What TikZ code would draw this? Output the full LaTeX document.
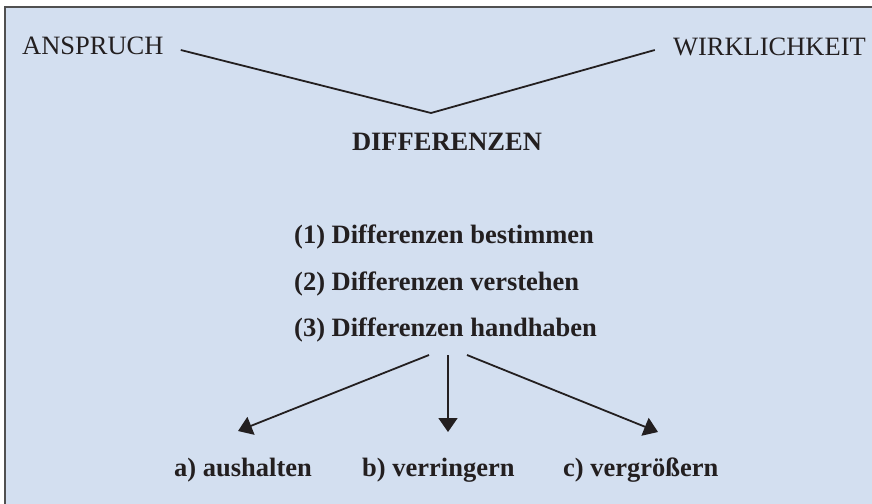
\documentclass[tikz,border=0pt]{standalone}
\usepackage{fontspec}
\setmainfont{Liberation Serif}
\usetikzlibrary{arrows.meta,calc}
\definecolor{bgblue}{RGB}{211,223,240}
\definecolor{bordergray}{RGB}{80,80,80}
\definecolor{ink}{RGB}{35,31,32}
\tikzset{
  lbl/.style={inner sep=0pt, text=ink, font=\fontsize{26.5}{30}\selectfont},
  lblb/.style={inner sep=0pt, text=ink, font=\fontsize{26.5}{30}\selectfont\bfseries},
  conn/.style={draw=ink, line width=1.8pt},
  arr/.style={conn, -{Triangle[length=14pt,width=19pt]}}
}
\begin{document}
\begin{tikzpicture}[x=1pt,y=-1pt]
\useasboundingbox (0,0) rectangle (872,503);
\fill[bgblue] (5,7) rectangle (874,505);
\draw[bordergray, line width=1.5pt] (5,505) -- (5,7) -- (874,7);

\node[lbl, anchor=base west] (ansp) at (22,55) {ANSPRUCH};
\node[lbl, anchor=base east] (wirk) at (866,56) {WIRKLICHKEIT};
\node[lblb, anchor=base] (diff) at (447,150) {DIFFERENZEN};

\coordinate (la) at ($(ansp.base east)+(17,-5)$);
\coordinate (lw) at ($(wirk.base west)+(-18,-6)$);
\coordinate (v) at (431,113);
\draw[conn] (la) -- (v) -- (lw);

\node[lblb, anchor=base west] (s1) at (294,243) {(1) Differenzen bestimmen};
\node[lblb, anchor=base west] (s2) at (294,290) {(2) Differenzen verstehen};
\node[lblb, anchor=base west] (s3) at (294,336) {(3) Differenzen handhaben};

\node[lblb, anchor=base west] (a) at (174,476) {a) aushalten};
\node[lblb, anchor=base west] (b) at (362,476) {b) verringern};
\node[lblb, anchor=base west] (c) at (563,476) {c) vergrößern};

\coordinate (o1) at (429,355);
\coordinate (o2) at (448,355);
\coordinate (o3) at (467,355);
\coordinate (ta) at (238,431);
\coordinate (tb) at (448,432);
\coordinate (tc) at (658,432);
\draw[arr] (o1) -- (ta);
\draw[arr] (o2) -- (tb);
\draw[arr] (o3) -- (tc);
\end{tikzpicture}
\end{document}
